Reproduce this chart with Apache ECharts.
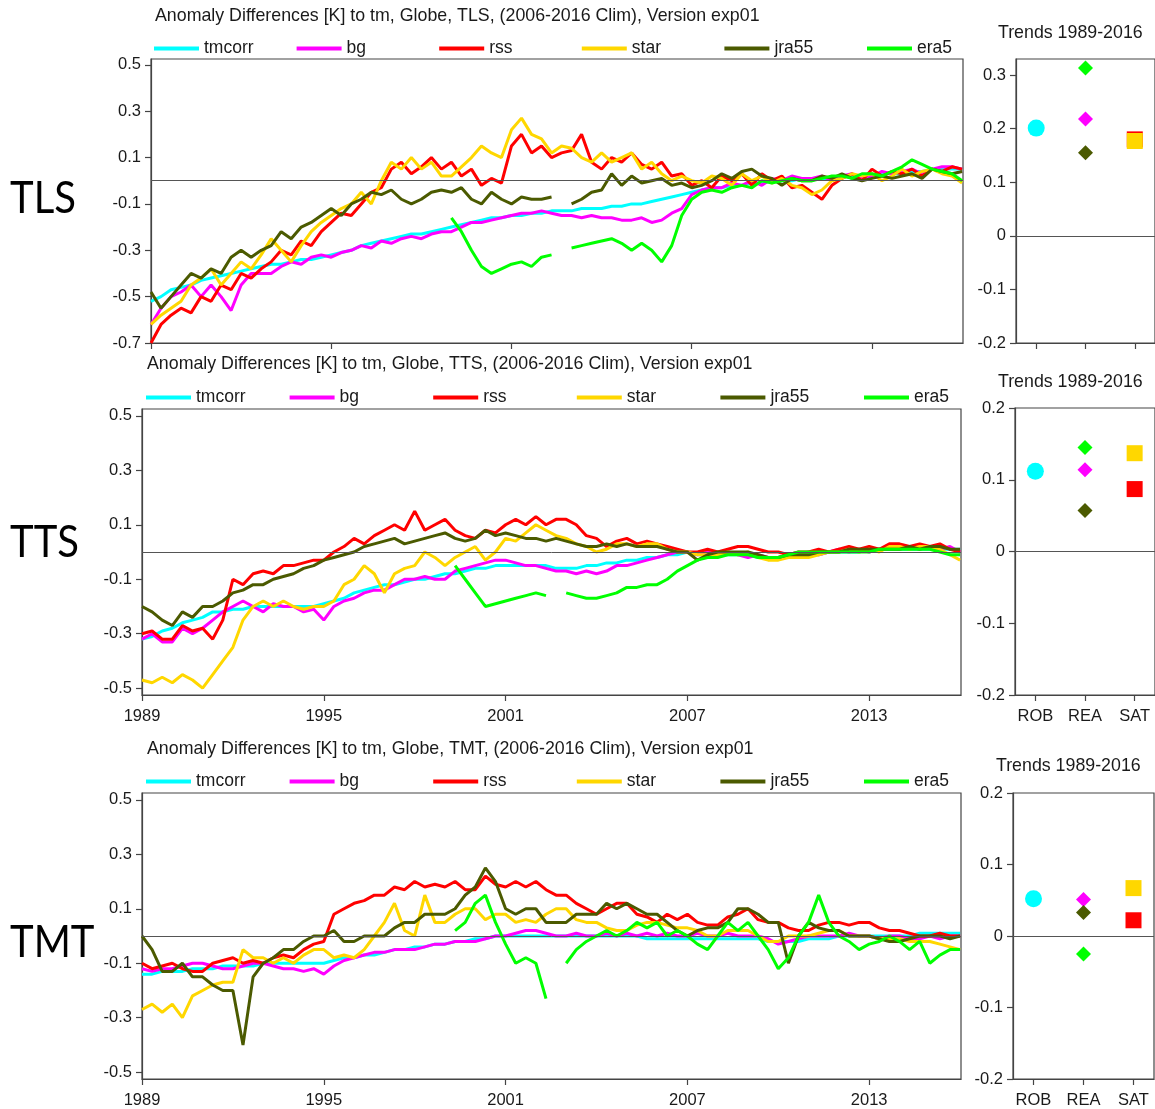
<!DOCTYPE html>
<html>
<head>
<meta charset="utf-8">
<title>Anomaly Differences to tm</title>
<script src="https://cdn.jsdelivr.net/npm/echarts@6/dist/echarts.min.js"></script>
<style>
    html, body { margin: 0; padding: 0; background: #ffffff; }
    #echartsArea { width: 1155px; height: 1109px; }
</style>
</head>
<body>
<div id="echartsArea"></div>
<script>
// one value every 4 months: Jan, May, Sep ... Jan 2016
var startYear = 1989;
var pointCount = 82;
var years = [];
for (var k = 0; k < pointCount; k++) {
    years.push(startYear + k / 3);
}

var seriesNames = ['tmcorr', 'bg', 'rss', 'star', 'jra55', 'era5'];
var seriesColors = ['#00ffff', '#ff00ff', '#ff0000', '#ffd700', '#4b5a00', '#00ff00'];

var yearTicks = [1989, 1995, 2001, 2007, 2013];
var tlsTicks = [-0.7, -0.5, -0.3, -0.1, 0.1, 0.3, 0.5];
var ttsTicks = [-0.5, -0.3, -0.1, 0.1, 0.3, 0.5];
var tmtTicks = [-0.5, -0.3, -0.1, 0.1, 0.3, 0.5];
var trendTicksTLS = [-0.2, -0.1, 0, 0.1, 0.2, 0.3];
var trendTicks = [-0.2, -0.1, 0, 0.1, 0.2];
var trendGroups = ['ROB', 'REA', 'SAT'];
var panelNames = ['TLS', 'TTS', 'TMT'];

//TLS
var tlsTmcorr = [
    -0.52, -0.50, -0.47, -0.46, -0.45, -0.43, -0.42, -0.41, -0.40, // 1989
    -0.39, -0.38, -0.37, -0.36, -0.36, -0.35, -0.34, -0.34, -0.33, // 1992
    -0.32, -0.31, -0.30, -0.28, -0.27, -0.26, -0.25, -0.24, -0.23, // 1995
    -0.23, -0.22, -0.21, -0.20, -0.19, -0.18, -0.17, -0.16, -0.16, // 1998
    -0.15, -0.15, -0.14, -0.14, -0.13, -0.13, -0.13, -0.12, -0.12, // 2001
    -0.12, -0.11, -0.11, -0.10, -0.10, -0.09, -0.08, -0.07, -0.06, // 2004
    -0.05, -0.04, -0.03, -0.03, -0.02, -0.02, -0.01, -0.01, 0.00,  // 2007
    0.00, 0.00, 0.01, 0.01, 0.01, 0.01, 0.02, 0.02, 0.02,          // 2010
    0.02, 0.03, 0.03, 0.03, 0.04, 0.04, 0.05, 0.05, 0.05,          // 2013
    0.05
];
var tlsBg = [
    -0.62, -0.55, -0.50, -0.48, -0.45, -0.50, -0.45, -0.50, -0.56,
    -0.45, -0.40, -0.40, -0.40, -0.37, -0.35, -0.36, -0.33, -0.32,
    -0.33, -0.31, -0.30, -0.28, -0.29, -0.26, -0.27, -0.25, -0.24,
    -0.25, -0.23, -0.22, -0.22, -0.20, -0.18, -0.18, -0.17, -0.16,
    -0.15, -0.14, -0.14, -0.13, -0.14, -0.15, -0.15, -0.16, -0.15,
    -0.16, -0.16, -0.17, -0.17, -0.16, -0.18, -0.17, -0.14, -0.12,
    -0.06, -0.04, -0.03, -0.03, -0.01, -0.02, 0.00, -0.02, 0.01,
    0.00, 0.02, 0.01, 0.01, 0.02, 0.00, 0.02, 0.03, 0.01,
    0.02, 0.04, 0.03, 0.04, 0.05, 0.03, 0.05, 0.06, 0.06,
    0.05
];
var tlsRss = [
    -0.70, -0.62, -0.58, -0.55, -0.57, -0.50, -0.52, -0.45, -0.47,
    -0.40, -0.42, -0.38, -0.35, -0.30, -0.32, -0.26, -0.28, -0.22,
    -0.18, -0.14, -0.15, -0.10, -0.05, -0.03, 0.05, 0.08, 0.03,
    0.06, 0.10, 0.05, 0.08, 0.02, 0.05, -0.02, 0.01, -0.01,
    0.15, 0.20, 0.12, 0.15, 0.10, 0.12, 0.13, 0.20, 0.08,
    0.05, 0.10, 0.08, 0.12, 0.07, 0.05, 0.08, 0.02, 0.03,
    -0.02, 0.00, -0.03, 0.02, 0.00, 0.03, -0.02, 0.03, 0.00,
    0.02, -0.03, -0.02, -0.05, -0.08, -0.02, 0.01, 0.03, 0.00,
    0.05, 0.02, 0.04, 0.03, 0.05, 0.02, 0.05, 0.04, 0.06,
    0.05
];
var tlsStar = [
    -0.62, -0.58, -0.55, -0.52, -0.45, -0.42, -0.38, -0.45, -0.40,
    -0.35, -0.38, -0.32, -0.25, -0.30, -0.35, -0.28, -0.22, -0.18,
    -0.15, -0.12, -0.10, -0.05, -0.10, 0.00, 0.08, 0.05, 0.10,
    0.05, 0.08, 0.02, 0.02, 0.06, 0.10, 0.15, 0.12, 0.10,
    0.22, 0.27, 0.20, 0.18, 0.12, 0.15, 0.14, 0.10, 0.08,
    0.12, 0.08, 0.10, 0.12, 0.05, 0.08, 0.03, 0.00, 0.02,
    0.00, -0.01, 0.02, 0.01, -0.02, 0.03, 0.00, 0.02, -0.01,
    0.01, -0.02, -0.03, -0.06, -0.04, 0.00, 0.01, 0.03, 0.02,
    0.03, 0.00, 0.02, 0.05, 0.02, 0.04, 0.05, 0.03, 0.02,
    -0.01
];
var tlsJra55 = [
    -0.48, -0.55, -0.50, -0.45, -0.40, -0.42, -0.38, -0.40, -0.33,
    -0.30, -0.33, -0.30, -0.28, -0.22, -0.25, -0.20, -0.18, -0.15,
    -0.12, -0.15, -0.10, -0.08, -0.05, -0.06, -0.04, -0.08, -0.10,
    -0.08, -0.05, -0.04, -0.05, -0.03, -0.08, -0.10, -0.05, -0.08,
    -0.10, -0.07, -0.08, -0.08, -0.07, null, -0.10, -0.08, -0.05,
    -0.04, 0.03, -0.02, 0.02, -0.01, 0.00, 0.01, -0.02, -0.01,
    -0.03, -0.02, 0.00, 0.03, 0.01, 0.04, 0.05, 0.02, 0.01,
    -0.02, 0.01, 0.00, 0.00, 0.02, 0.01, 0.03, 0.01, 0.00,
    0.01, 0.02, 0.01, 0.02, 0.03, 0.01, 0.05, 0.04, 0.03,
    0.04
];
var tlsEra5 = [
    null, null, null, null, null, null, null, null, null,
    null, null, null, null, null, null, null, null, null,
    null, null, null, null, null, null, null, null, null,
    null, null, null, -0.16, -0.22, -0.30, -0.37, -0.40, -0.38,
    -0.36, -0.35, -0.37, -0.33, -0.32, null, -0.29, -0.28, -0.27,
    -0.26, -0.25, -0.27, -0.30, -0.27, -0.30, -0.35, -0.28, -0.15,
    -0.08, -0.05, -0.04, -0.05, -0.03, -0.02, -0.03, 0.00, -0.01,
    0.00, 0.01, 0.00, 0.00, 0.01, 0.02, 0.02, 0.01, 0.03,
    0.03, 0.02, 0.04, 0.06, 0.09, 0.07, 0.05, 0.04, 0.03,
    0.00
];

//TTS
var ttsTmcorr = [
    -0.32, -0.31, -0.29, -0.28, -0.26, -0.25, -0.24, -0.22, -0.22,
    -0.21, -0.21, -0.20, -0.20, -0.20, -0.20, -0.20, -0.20, -0.20,
    -0.19, -0.18, -0.17, -0.15, -0.14, -0.13, -0.12, -0.12, -0.11,
    -0.10, -0.10, -0.09, -0.08, -0.08, -0.07, -0.06, -0.06, -0.05,
    -0.05, -0.05, -0.05, -0.05, -0.05, -0.06, -0.06, -0.06, -0.05,
    -0.05, -0.04, -0.04, -0.03, -0.03, -0.02, -0.02, -0.01, -0.01,
    0.00, -0.01, -0.01, -0.01, -0.01, -0.01, -0.01, -0.02, -0.02,
    -0.02, -0.02, -0.01, -0.01, -0.01, 0.00, 0.00, 0.00, 0.00,
    0.01, 0.01, 0.01, 0.01, 0.01, 0.01, 0.01, 0.01, 0.01,
    0.01
];
var ttsBg = [
    -0.32, -0.30, -0.33, -0.33, -0.28, -0.30, -0.28, -0.25, -0.22,
    -0.20, -0.18, -0.20, -0.22, -0.19, -0.20, -0.20, -0.22, -0.21,
    -0.25, -0.20, -0.18, -0.17, -0.15, -0.14, -0.14, -0.12, -0.10,
    -0.10, -0.09, -0.10, -0.10, -0.07, -0.06, -0.05, -0.04, -0.03,
    -0.03, -0.04, -0.05, -0.05, -0.06, -0.07, -0.07, -0.08, -0.07,
    -0.08, -0.07, -0.05, -0.05, -0.04, -0.03, -0.02, -0.01, 0.00,
    0.00, -0.01, 0.00, -0.01, 0.00, -0.01, -0.02, -0.01, -0.02,
    -0.02, -0.01, -0.01, 0.00, -0.01, 0.00, 0.01, 0.00, 0.01,
    0.00, 0.01, 0.02, 0.01, 0.02, 0.02, 0.02, 0.01, 0.02,
    0.00
];
var ttsRss = [
    -0.30, -0.29, -0.32, -0.32, -0.27, -0.29, -0.28, -0.32, -0.25,
    -0.10, -0.12, -0.08, -0.07, -0.08, -0.05, -0.05, -0.04, -0.03,
    -0.03, 0.00, 0.02, 0.05, 0.03, 0.06, 0.08, 0.10, 0.08,
    0.15, 0.08, 0.10, 0.12, 0.08, 0.06, 0.05, 0.08, 0.07,
    0.10, 0.12, 0.10, 0.13, 0.10, 0.12, 0.12, 0.10, 0.06,
    0.05, 0.02, 0.04, 0.05, 0.03, 0.04, 0.03, 0.02, 0.01,
    0.00, 0.00, 0.01, 0.00, 0.01, 0.02, 0.02, 0.01, 0.00,
    0.00, -0.01, 0.00, 0.00, 0.01, 0.00, 0.01, 0.02, 0.01,
    0.02, 0.01, 0.03, 0.03, 0.02, 0.03, 0.02, 0.03, 0.01,
    0.00
];
var ttsStar = [
    -0.47, -0.48, -0.46, -0.48, -0.45, -0.47, -0.50, -0.45, -0.40,
    -0.35, -0.25, -0.20, -0.18, -0.20, -0.18, -0.20, -0.21, -0.20,
    -0.20, -0.18, -0.12, -0.10, -0.05, -0.08, -0.15, -0.08, -0.06,
    -0.05, 0.00, -0.02, -0.05, -0.02, 0.00, 0.02, -0.03, 0.00,
    0.05, 0.04, 0.07, 0.10, 0.08, 0.06, 0.05, 0.03, 0.02,
    0.00, 0.01, 0.03, 0.03, 0.02, 0.03, 0.03, 0.01, 0.00,
    0.00, -0.01, -0.01, -0.01, 0.00, -0.01, 0.00, -0.02, -0.03,
    -0.03, -0.02, -0.02, -0.02, -0.01, 0.00, 0.00, 0.01, 0.00,
    0.01, 0.00, 0.02, 0.02, 0.01, 0.02, 0.02, 0.01, -0.01,
    -0.03
];
var ttsJra55 = [
    -0.20, -0.22, -0.25, -0.27, -0.22, -0.24, -0.20, -0.20, -0.18,
    -0.15, -0.14, -0.12, -0.12, -0.10, -0.09, -0.08, -0.06, -0.05,
    -0.03, -0.02, -0.01, 0.00, 0.02, 0.03, 0.04, 0.05, 0.03,
    0.04, 0.05, 0.06, 0.07, 0.05, 0.04, 0.05, 0.08, 0.06,
    0.07, 0.06, 0.05, 0.05, 0.04, 0.05, 0.04, 0.03, 0.02,
    0.02, 0.03, 0.02, 0.03, 0.02, 0.02, 0.02, 0.01, 0.00,
    0.00, -0.03, -0.01, 0.00, 0.00, 0.00, 0.00, -0.01, -0.02,
    -0.02, -0.01, -0.01, -0.01, 0.00, 0.00, 0.00, 0.01, 0.01,
    0.01, 0.01, 0.01, 0.01, 0.02, 0.01, 0.02, 0.02, 0.01,
    0.01
];
var ttsEra5 = [
    null, null, null, null, null, null, null, null, null,
    null, null, null, null, null, null, null, null, null,
    null, null, null, null, null, null, null, null, null,
    null, null, null, null, -0.05, -0.10, -0.15, -0.20, -0.19,
    -0.18, -0.17, -0.16, -0.15, -0.16, null, -0.15, -0.16, -0.17,
    -0.17, -0.16, -0.15, -0.13, -0.13, -0.12, -0.12, -0.10, -0.07,
    -0.05, -0.03, -0.02, -0.02, -0.01, -0.01, -0.01, -0.02, -0.02,
    -0.02, -0.01, 0.00, 0.00, 0.00, 0.00, 0.00, 0.00, 0.00,
    0.00, 0.01, 0.01, 0.01, 0.01, 0.01, 0.01, 0.00, -0.01,
    -0.01
];

//TMT
var tmtTmcorr = [
    -0.14, -0.14, -0.13, -0.13, -0.13, -0.12, -0.12, -0.12, -0.11,
    -0.11, -0.11, -0.11, -0.10, -0.10, -0.10, -0.10, -0.10, -0.10,
    -0.10, -0.09, -0.08, -0.08, -0.07, -0.07, -0.06, -0.05, -0.05,
    -0.04, -0.04, -0.03, -0.03, -0.02, -0.02, -0.01, -0.01, 0.00,
    0.00, 0.00, 0.00, 0.00, 0.00, 0.00, 0.00, 0.00, 0.00,
    0.00, 0.00, 0.00, 0.00, 0.00, -0.01, -0.01, -0.01, -0.01,
    -0.01, -0.01, -0.01, -0.01, -0.01, -0.01, -0.01, -0.01, -0.02,
    -0.02, -0.02, -0.02, -0.01, -0.01, -0.01, 0.00, 0.00, 0.00,
    0.00, 0.00, 0.00, 0.00, 0.00, 0.01, 0.01, 0.01, 0.01,
    0.01
];
var tmtBg = [
    -0.12, -0.13, -0.12, -0.12, -0.11, -0.10, -0.10, -0.11, -0.12,
    -0.12, -0.11, -0.10, -0.10, -0.11, -0.12, -0.12, -0.13, -0.12,
    -0.14, -0.11, -0.09, -0.08, -0.07, -0.06, -0.06, -0.05, -0.05,
    -0.05, -0.04, -0.03, -0.03, -0.02, -0.02, -0.02, -0.01, 0.00,
    0.00, 0.01, 0.02, 0.02, 0.01, 0.00, 0.00, 0.01, 0.00,
    0.00, 0.01, 0.00, 0.01, 0.00, 0.01, 0.00, 0.01, 0.00,
    0.00, 0.01, 0.00, 0.00, 0.01, 0.00, 0.00, 0.00, -0.01,
    -0.03, -0.02, -0.01, 0.00, 0.00, 0.00, 0.00, 0.01, 0.00,
    0.00, -0.01, 0.00, 0.00, -0.01, -0.01, 0.00, -0.01, 0.00,
    0.00
];
var tmtRss = [
    -0.10, -0.12, -0.11, -0.10, -0.12, -0.13, -0.13, -0.10, -0.09,
    -0.08, -0.10, -0.09, -0.10, -0.08, -0.07, -0.08, -0.05, -0.03,
    -0.02, 0.08, 0.10, 0.12, 0.13, 0.15, 0.15, 0.18, 0.17,
    0.20, 0.18, 0.19, 0.18, 0.20, 0.17, 0.17, 0.22, 0.19,
    0.18, 0.20, 0.18, 0.20, 0.17, 0.15, 0.15, 0.12, 0.10,
    0.08, 0.10, 0.12, 0.12, 0.08, 0.07, 0.05, 0.08, 0.06,
    0.08, 0.05, 0.04, 0.04, 0.07, 0.08, 0.10, 0.06, 0.05,
    0.05, 0.03, 0.02, 0.02, 0.04, 0.05, 0.05, 0.04, 0.05,
    0.05, 0.03, 0.02, 0.02, 0.01, 0.00, 0.00, 0.01, 0.00,
    0.00
];
var tmtStar = [
    -0.27, -0.25, -0.28, -0.25, -0.30, -0.22, -0.20, -0.18, -0.17,
    -0.17, -0.05, -0.08, -0.08, -0.10, -0.08, -0.10, -0.07, -0.05,
    -0.05, -0.08, -0.07, -0.08, -0.05, 0.00, 0.05, 0.12, 0.02,
    0.00, 0.15, 0.05, 0.05, 0.08, 0.10, 0.10, 0.06, 0.08,
    0.08, 0.05, 0.06, 0.05, 0.08, 0.10, 0.10, 0.06, 0.05,
    0.05, 0.03, 0.02, 0.02, 0.04, 0.05, 0.05, 0.04, 0.03,
    0.03, 0.02, 0.00, 0.00, 0.02, 0.02, 0.02, 0.00, -0.02,
    -0.02, 0.00, 0.00, 0.00, 0.01, 0.02, 0.02, 0.00, 0.00,
    0.00, -0.01, -0.01, -0.01, -0.02, -0.02, -0.02, -0.03, -0.04,
    -0.05
];
var tmtJra55 = [
    0.00, -0.05, -0.13, -0.13, -0.10, -0.15, -0.15, -0.18, -0.20,
    -0.20, -0.40, -0.15, -0.10, -0.08, -0.05, -0.05, -0.02, 0.00,
    0.00, 0.02, -0.02, -0.02, 0.00, 0.00, 0.00, 0.03, 0.05,
    0.05, 0.08, 0.08, 0.08, 0.10, 0.15, 0.18, 0.25, 0.20,
    0.10, 0.08, 0.10, 0.10, 0.05, 0.05, 0.05, 0.08, 0.08,
    0.08, 0.12, 0.10, 0.12, 0.10, 0.08, 0.08, 0.05, 0.02,
    0.00, 0.02, 0.03, 0.03, 0.05, 0.10, 0.10, 0.08, 0.05,
    0.05, -0.10, 0.00, 0.05, 0.03, 0.02, 0.02, 0.00, 0.00,
    0.00, -0.01, -0.02, -0.02, -0.01, 0.00, 0.00, 0.00, -0.01,
    0.00
];
var tmtEra5 = [
    null, null, null, null, null, null, null, null, null,
    null, null, null, null, null, null, null, null, null,
    null, null, null, null, null, null, null, null, null,
    null, null, null, null, 0.02, 0.05, 0.12, 0.15, 0.05,
    -0.03, -0.10, -0.08, -0.10, -0.23, null, -0.10, -0.05, -0.02,
    0.00, 0.02, 0.00, 0.02, 0.05, 0.03, 0.05, 0.00, 0.02,
    0.00, -0.03, -0.05, 0.00, 0.05, 0.02, 0.05, 0.00, -0.05,
    -0.12, -0.08, 0.00, 0.05, 0.15, 0.05, 0.00, -0.02, -0.05,
    -0.03, -0.02, 0.00, -0.02, -0.05, -0.02, -0.10, -0.07, -0.05,
    -0.05
];

// trends 1989-2016, order: TLS, TTS, TMT
var trendTmcorr = [0.201, 0.112, 0.052];
var trendBg = [0.218, 0.114, 0.051];
var trendJra55 = [0.155, 0.057, 0.033];
var trendEra5 = [0.313, 0.145, -0.025];
var trendRss = [0.180, 0.087, 0.022];
var trendStar = [0.177, 0.137, 0.067];

var fontName = '"Liberation Sans", Arial, sans-serif';
var textColor = '#1a1a1a';
var frameColor = '#444444';

var dom = document.getElementById('echartsArea');
var myChart = echarts.init(dom, null, {renderer: 'canvas'});

var grids = [];
var xAxes = [];
var yAxes = [];
var seriesList = [];

function toPairs(values) {
    return values.map(function (v, i) {
        return [years[i], v];
    });
}

function zeroLine() {
    return {
        silent: true,
        symbol: 'none',
        label: {show: false},
        lineStyle: {color: '#555555', width: 1, type: 'solid'},
        data: [{yAxis: 0}]
    };
}

function axisCommon() {
    return {
        axisLine: {show: true, onZero: false, lineStyle: {color: frameColor, width: 1.2}},
        splitLine: {show: false}
    };
}

function plainNumber(v) {
    return String(v);
}

/**
 * time series panel
 */
function addMainPanel(box, ticks, yMin, yMax, values, showYears) {
    var gi = grids.length;
    grids.push({left: box[0], top: box[1], width: box[2], height: box[3],
        show: true, borderColor: frameColor, borderWidth: 1.2, backgroundColor: 'transparent'});

    var xa = axisCommon();
    xa.type = 'value';
    xa.gridIndex = gi;
    xa.min = 1989;
    xa.max = 2016.03;
    xa.axisTick = {show: true, inside: false, length: 6, customValues: yearTicks,
        lineStyle: {color: frameColor, width: 1.2}};
    xa.axisLabel = {show: showYears, customValues: yearTicks, margin: 13, formatter: plainNumber,
        color: textColor, fontSize: 16.5, fontFamily: fontName};
    xAxes.push(xa);

    var ya = axisCommon();
    ya.type = 'value';
    ya.gridIndex = gi;
    ya.min = yMin;
    ya.max = yMax;
    ya.axisTick = {show: true, inside: false, length: 6, customValues: ticks,
        lineStyle: {color: frameColor, width: 1.2}};
    ya.axisLabel = {customValues: ticks, margin: 10, formatter: plainNumber,
        color: textColor, fontSize: 16.5, fontFamily: fontName};
    yAxes.push(ya);

    for (var i = 0; i < seriesNames.length; i++) {
        var s = {
            type: 'line',
            name: seriesNames[i],
            xAxisIndex: gi,
            yAxisIndex: gi,
            data: toPairs(values[i]),
            showSymbol: false,
            symbol: 'none',
            connectNulls: false,
            color: seriesColors[i],
            lineStyle: {width: 3, color: seriesColors[i]},
            silent: true
        };
        if (i === 0) {
            s.markLine = zeroLine();
        }
        seriesList.push(s);
    }
}

/**
 * trend panel on the right
 */
function addTrendPanel(box, ticks, yMin, yMax, p, showGroups) {
    var gi = grids.length;
    grids.push({left: box[0], top: box[1], width: box[2], height: box[3],
        show: true, borderColor: frameColor, borderWidth: 1.2, backgroundColor: 'transparent'});

    var xa = axisCommon();
    xa.type = 'value';
    xa.gridIndex = gi;
    xa.min = 0.59;
    xa.max = 3.41;
    xa.axisTick = {show: true, inside: false, length: 6, customValues: [1, 2, 3],
        lineStyle: {color: frameColor, width: 1.2}};
    xa.axisLabel = {show: showGroups, customValues: [1, 2, 3], margin: 13,
        color: textColor, fontSize: 16.5, fontFamily: fontName,
        formatter: function (v) {
            return trendGroups[Math.round(v) - 1];
        }};
    xAxes.push(xa);

    var ya = axisCommon();
    ya.type = 'value';
    ya.gridIndex = gi;
    ya.min = yMin;
    ya.max = yMax;
    ya.axisTick = {show: true, inside: false, length: 6, customValues: ticks,
        lineStyle: {color: frameColor, width: 1.2}};
    ya.axisLabel = {customValues: ticks, margin: 10, formatter: plainNumber,
        color: textColor, fontSize: 16.5, fontFamily: fontName};
    yAxes.push(ya);

    var marks = [
        {name: 'tmcorr', x: 1, v: trendTmcorr[p], symbol: 'circle', size: 17, color: seriesColors[0]},
        {name: 'bg', x: 2, v: trendBg[p], symbol: 'diamond', size: 15, color: seriesColors[1]},
        {name: 'jra55', x: 2, v: trendJra55[p], symbol: 'diamond', size: 15, color: seriesColors[4]},
        {name: 'era5', x: 2, v: trendEra5[p], symbol: 'diamond', size: 15, color: seriesColors[5]},
        {name: 'rss', x: 3, v: trendRss[p], symbol: 'rect', size: 16, color: seriesColors[2]},
        {name: 'star', x: 3, v: trendStar[p], symbol: 'rect', size: 16, color: seriesColors[3]}
    ];
    for (var i = 0; i < marks.length; i++) {
        var s = {
            type: 'scatter',
            name: marks[i].name,
            xAxisIndex: gi,
            yAxisIndex: gi,
            symbol: marks[i].symbol,
            symbolSize: marks[i].size,
            itemStyle: {color: marks[i].color, opacity: 1},
            data: [[marks[i].x, marks[i].v]],
            silent: true
        };
        if (i === 0) {
            s.markLine = zeroLine();
        }
        seriesList.push(s);
    }
}

addMainPanel([151, 59, 812, 284], tlsTicks, -0.7, 0.525,
    [tlsTmcorr, tlsBg, tlsRss, tlsStar, tlsJra55, tlsEra5], false);
addTrendPanel([1016, 59, 141, 284], trendTicksTLS, -0.2, 0.33, 0, false);
addMainPanel([142, 409, 819, 286], ttsTicks, -0.525, 0.525,
    [ttsTmcorr, ttsBg, ttsRss, ttsStar, ttsJra55, ttsEra5], true);
addTrendPanel([1015, 408, 141, 287], trendTicks, -0.2, 0.2, 1, true);
addMainPanel([142, 793, 819, 287], tmtTicks, -0.525, 0.525,
    [tmtTmcorr, tmtBg, tmtRss, tmtStar, tmtJra55, tmtEra5], true);
addTrendPanel([1013, 793, 141, 286], trendTicks, -0.2, 0.2, 2, true);

function panelTitle(text, left, top) {
    return {
        text: text, left: left, top: top, padding: 0,
        textStyle: {color: textColor, fontSize: 17.8, fontWeight: 'normal', fontFamily: fontName}
    };
}

// one legend per entry, so the entries sit at even spacing
var legends = [];
function addLegendRow(left, top, step) {
    for (var i = 0; i < seriesNames.length; i++) {
        legends.push({
            left: left + i * step, top: top, padding: 0,
            icon: 'rect', itemWidth: 45, itemHeight: 4,
            data: [seriesNames[i]],
            textStyle: {color: textColor, fontSize: 17.5, fontFamily: fontName}
        });
    }
}
addLegendRow(154, 39.5, 142.6);
addLegendRow(146, 388.5, 143.6);
addLegendRow(146, 772.5, 143.6);

// big row labels at the left
function rowLabel(text, top) {
    return {
        type: 'text', left: 10, top: top, scaleX: 0.89, silent: true,
        style: {text: text, fill: '#000000', font: '45px Lato, "Open Sans", sans-serif'}
    };
}

var option = {
    animation: false,
    backgroundColor: '#ffffff',
    title: [
        panelTitle('Anomaly Differences [K] to tm, Globe, TLS, (2006-2016 Clim), Version exp01', 155, 7),
        panelTitle('Anomaly Differences [K] to tm, Globe, TTS, (2006-2016 Clim), Version exp01', 147, 355),
        panelTitle('Anomaly Differences [K] to tm, Globe, TMT, (2006-2016 Clim), Version exp01', 147, 740),
        panelTitle('Trends 1989-2016', 998, 24),
        panelTitle('Trends 1989-2016', 998, 373),
        panelTitle('Trends 1989-2016', 996, 757)
    ],
    graphic: [
        rowLabel(panelNames[0], 176),
        rowLabel(panelNames[1], 520),
        rowLabel(panelNames[2], 920)
    ],
    legend: legends,
    grid: grids,
    xAxis: xAxes,
    yAxis: yAxes,
    series: seriesList
};

myChart.setOption(option);
</script>
</body>
</html>
